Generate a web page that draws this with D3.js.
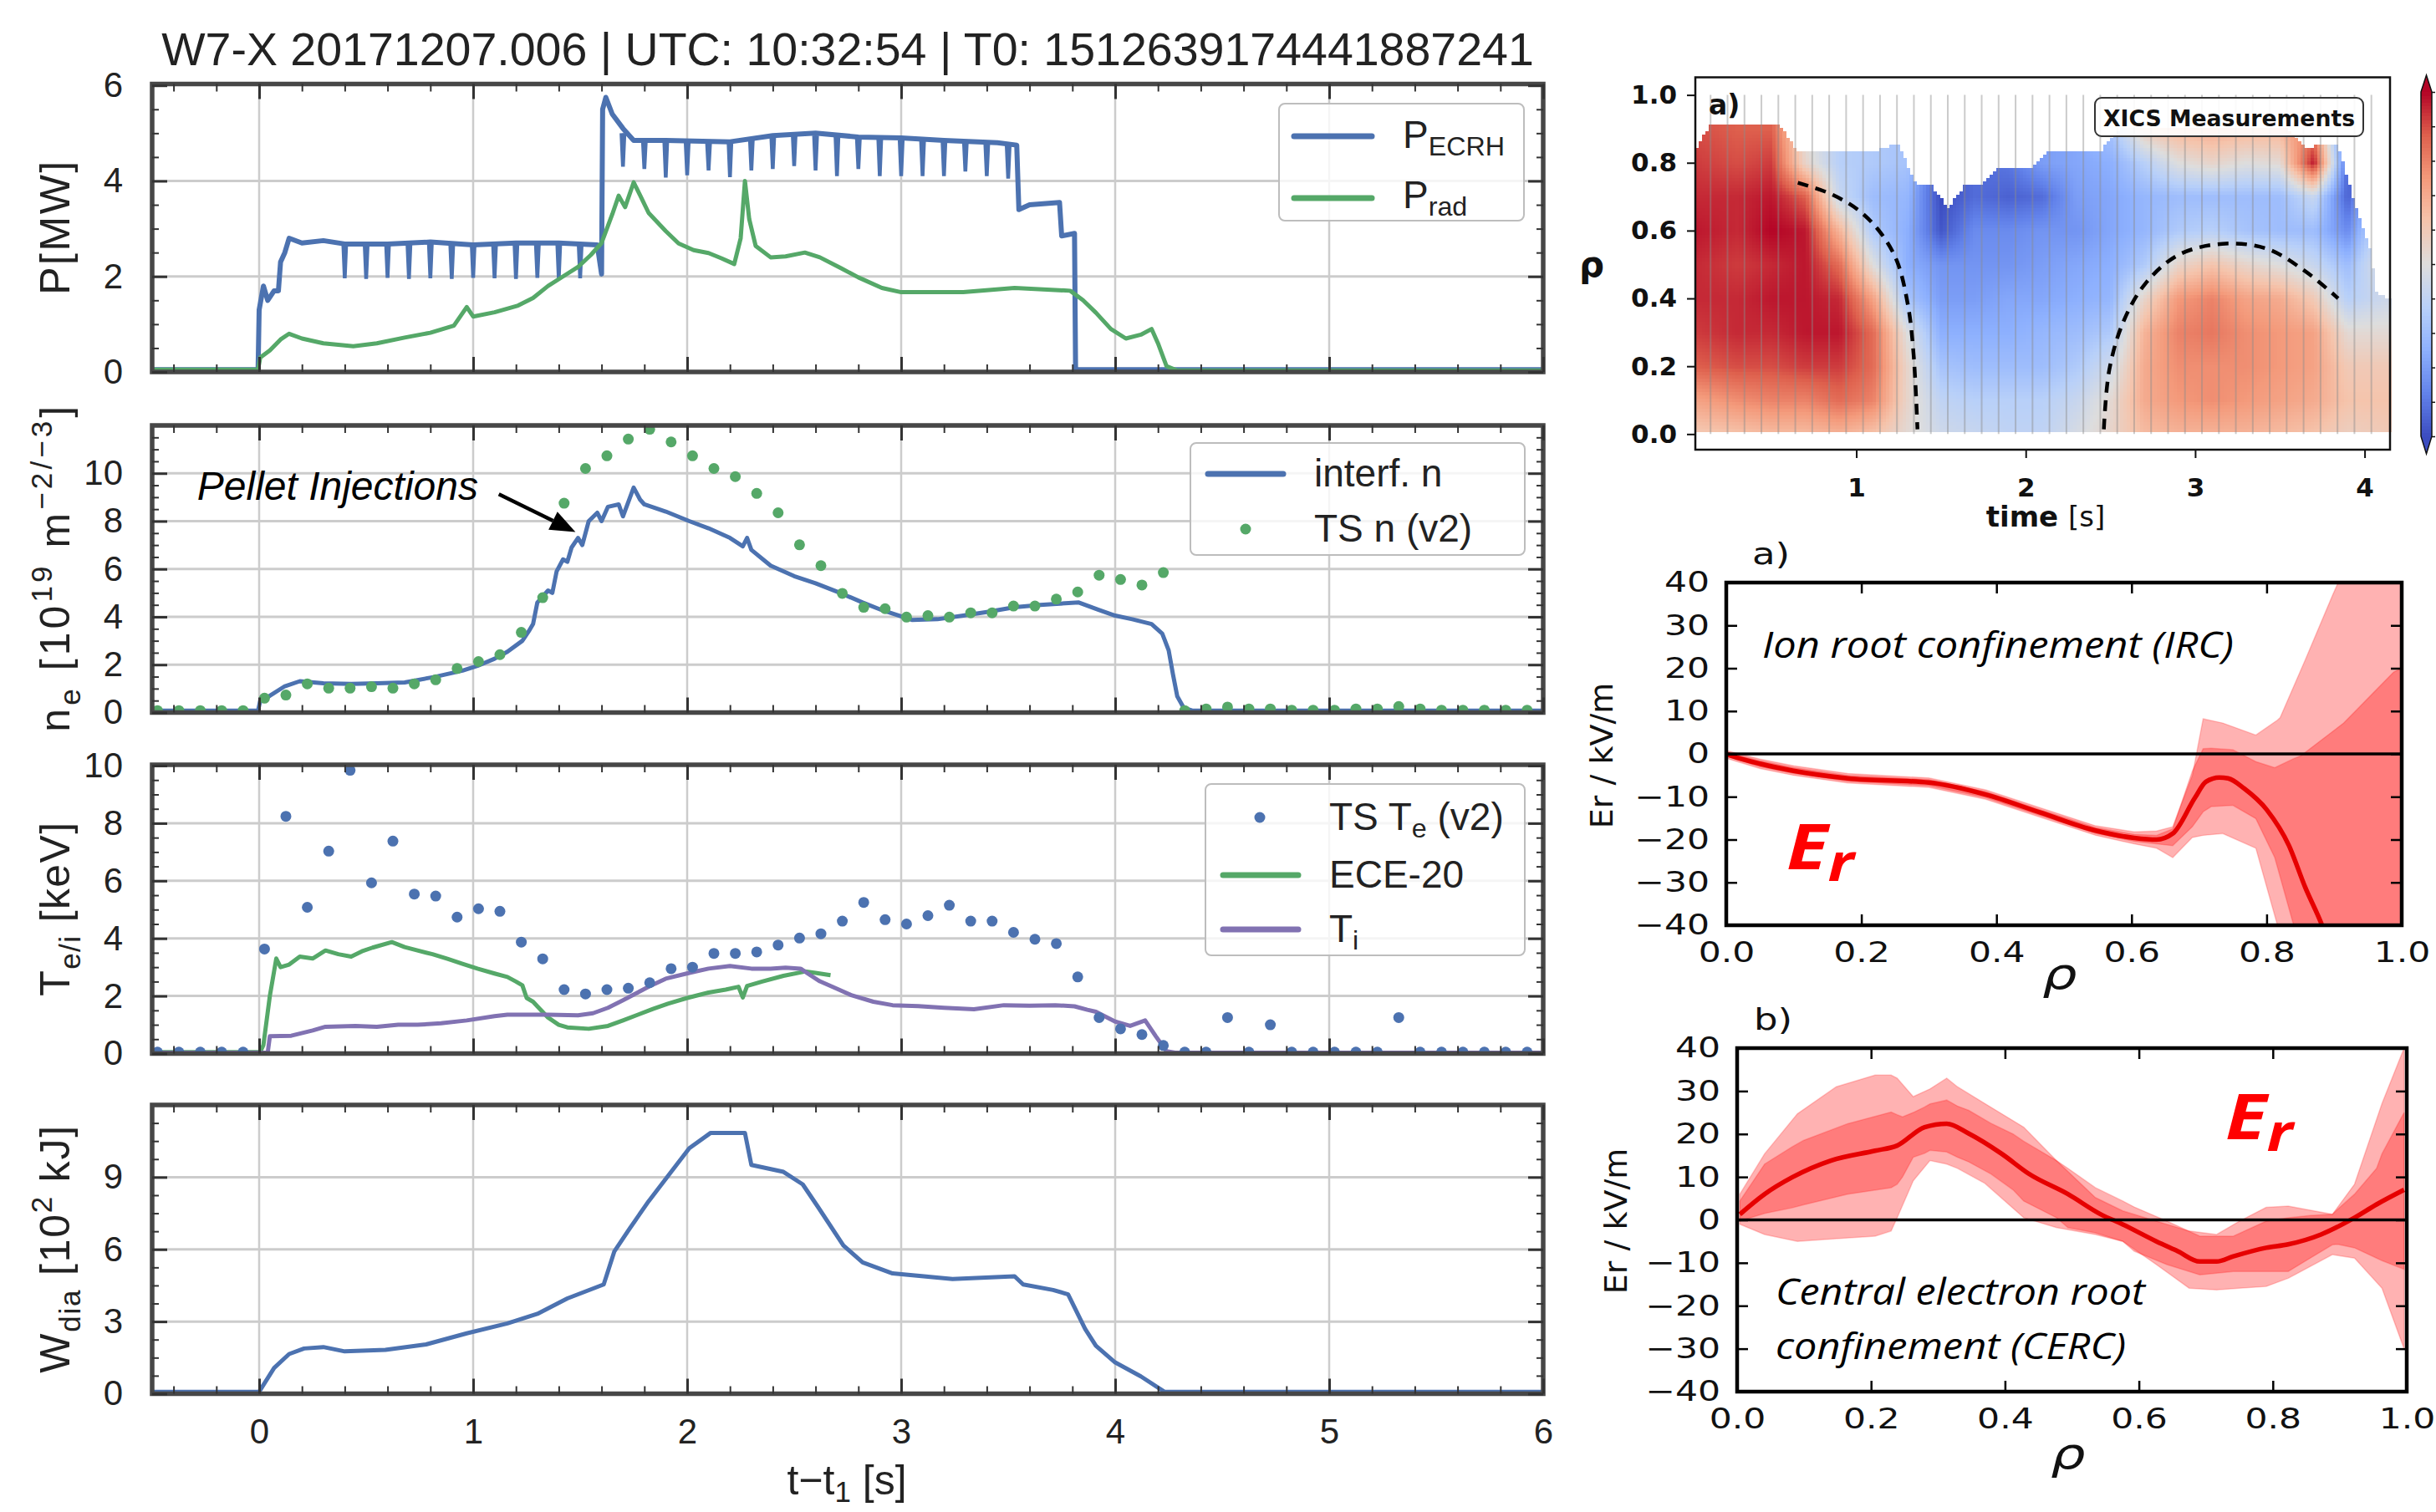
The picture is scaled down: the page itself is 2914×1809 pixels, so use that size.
<!DOCTYPE html>
<html>
<head>
<meta charset="utf-8">
<script src="https://cdn.jsdelivr.net/npm/d3@7"></script>
<style>
  body { margin: 0; background: #fff; }
  svg { display: block; }
</style>
</head>
<body>
<svg id="fig" width="2914" height="1809"></svg>
<script>
// ---------- left column: time traces (t - t1 in s) ----------
const ecrhBase = [[-0.5,0.05],[-0.005,0.05],[0,1.3],[0.02,1.8],[0.04,1.5],[0.07,1.7],[0.09,1.7],[0.1,2.3],[0.12,2.5],[0.14,2.8],[0.2,2.7],[0.3,2.75],[0.4,2.68],[0.6,2.68],[0.8,2.72],[1.0,2.66],[1.2,2.7],[1.4,2.7],[1.58,2.66],[1.6,2.05],[1.605,5.5],[1.62,5.75],[1.65,5.4],[1.7,5.1],[1.75,4.85],[1.9,4.85],[2.2,4.82],[2.4,4.95],[2.6,5.0],[2.8,4.92],[3.0,4.9],[3.2,4.85],[3.45,4.8],[3.54,4.75],[3.55,3.4],[3.6,3.5],[3.74,3.55],[3.75,2.85],[3.81,2.9],[3.815,0.05],[6,0.05]]
const ecrhDips = [[0.4,2.7,1.96],[0.5,2.68,1.95],[0.6,2.7,1.97],[0.7,2.68,1.95],[0.8,2.7,1.96],[0.9,2.68,1.95],[1.0,2.7,1.97],[1.1,2.68,1.96],[1.2,2.7,1.95],[1.3,2.68,1.97],[1.4,2.7,1.95],[1.5,2.68,1.96],
  [1.7,5.0,4.3],[1.8,4.85,4.25],[1.9,4.85,4.07],[2.0,4.8,4.12],[2.1,4.8,4.22],[2.2,4.85,4.08],[2.3,4.9,4.22],[2.4,4.95,4.25],[2.5,5.0,4.31],[2.6,4.95,4.22],[2.7,4.95,4.1],[2.8,4.9,4.25],[2.9,4.9,4.1],[3.0,4.85,4.1],[3.1,4.85,4.1],[3.2,4.85,4.1],[3.3,4.85,4.2],[3.4,4.8,4.1],[3.5,4.75,4.05]]
const pradData = [[-0.5,0.05],[-0.005,0.05],[0.005,0.3],[0.05,0.45],[0.1,0.68],[0.14,0.8],[0.2,0.7],[0.3,0.6],[0.44,0.54],[0.55,0.6],[0.68,0.72],[0.8,0.82],[0.91,0.97],[0.97,1.36],[1.0,1.16],[1.1,1.25],[1.21,1.39],[1.28,1.55],[1.35,1.8],[1.42,2.0],[1.49,2.2],[1.55,2.45],[1.6,2.7],[1.65,3.3],[1.68,3.69],[1.71,3.45],[1.75,3.97],[1.78,3.7],[1.82,3.33],[1.9,2.95],[1.96,2.69],[2.03,2.55],[2.1,2.49],[2.16,2.38],[2.22,2.26],[2.25,2.8],[2.27,4.0],[2.29,3.2],[2.32,2.64],[2.39,2.4],[2.46,2.42],[2.55,2.5],[2.62,2.4],[2.72,2.17],[2.8,1.98],[2.91,1.76],[3.0,1.67],[3.29,1.67],[3.53,1.76],[3.79,1.7],[3.85,1.5],[3.91,1.24],[3.98,0.9],[4.05,0.7],[4.12,0.78],[4.17,0.9],[4.2,0.6],[4.24,0.12],[4.29,0.03],[6,0.03]]

const interfData = [[-0.5,0.08],[-0.005,0.08],[0.005,0.5],[0.05,0.7],[0.12,1.1],[0.19,1.31],[0.3,1.22],[0.43,1.2],[0.55,1.22],[0.68,1.26],[0.82,1.49],[0.95,1.75],[1.02,1.95],[1.1,2.25],[1.16,2.54],[1.23,3.0],[1.26,3.4],[1.28,3.7],[1.3,4.6],[1.33,4.9],[1.35,5.1],[1.37,5.0],[1.39,5.9],[1.42,6.4],[1.44,6.3],[1.46,6.9],[1.49,7.3],[1.51,7.0],[1.54,8.0],[1.58,8.35],[1.6,8.0],[1.63,8.6],[1.68,8.7],[1.7,8.2],[1.75,9.4],[1.78,8.9],[1.8,8.7],[1.9,8.4],[2.01,8.0],[2.1,7.7],[2.2,7.3],[2.26,6.95],[2.28,7.3],[2.3,6.8],[2.39,6.14],[2.5,5.7],[2.6,5.4],[2.72,4.98],[2.82,4.6],[2.91,4.28],[3.05,3.87],[3.17,3.9],[3.29,4.05],[3.4,4.2],[3.53,4.4],[3.65,4.5],[3.83,4.6],[3.92,4.3],[4.0,4.05],[4.08,3.9],[4.17,3.7],[4.22,3.3],[4.25,2.6],[4.27,1.6],[4.29,0.68],[4.32,0.2],[4.36,0.08],[6,0.08]]

const tsTime = [-0.475,-0.375,-0.275,-0.175,-0.075,0.025,0.125,0.225,0.325,0.425,0.525,0.625,0.725,0.825,0.925,1.025,1.125,1.225,1.325,1.425,1.525,1.625,1.725,1.825,1.925,2.025,2.125,2.225,2.325,2.425,2.525,2.625,2.725,2.825,2.925,3.025,3.125,3.225,3.325,3.425,3.525,3.625,3.725,3.825,3.925,4.025,4.125,4.225,4.325,4.425,4.525,4.625,4.725,4.825,4.925,5.025,5.125,5.225,5.325,5.425,5.525,5.625,5.725,5.825,5.925]
const tsDensity = [0.08,0.08,0.08,0.08,0.08,0.6,0.73,1.2,1.02,1.02,1.08,1.02,1.2,1.37,1.84,2.13,2.42,3.35,4.8,8.75,10.2,10.73,11.43,11.84,11.31,10.73,10.2,9.86,9.16,8.35,7.01,6.14,4.98,4.4,4.34,3.99,4.05,3.99,4.17,4.17,4.45,4.45,4.74,5.04,5.74,5.56,5.33,5.85,0.08,0.15,0.23,0.15,0.15,0.1,0.1,0.1,0.15,0.15,0.25,0.15,0.1,0.1,0.1,0.1,0.1]
const tsTe = [0.05,0.05,0.05,0.05,0.05,3.63,8.24,5.08,7.03,9.84,5.93,7.38,5.54,5.47,4.74,5.03,4.94,3.87,3.29,2.22,2.07,2.22,2.27,2.46,2.95,3.0,3.48,3.48,3.53,3.77,4.01,4.16,4.6,5.25,4.65,4.5,4.79,5.15,4.6,4.6,4.21,3.97,3.82,2.66,1.25,0.86,0.66,0.28,0.05,0.05,1.25,0.05,1.0,0.05,0.05,0.05,0.05,0.05,1.25,0.05,0.05,0.05,0.05,0.05,0.05]

const eceData = [[-0.5,0.05],[0.005,0.05],[0.02,0.3],[0.05,2.0],[0.08,3.3],[0.1,3.0],[0.14,3.09],[0.19,3.37],[0.25,3.3],[0.31,3.58],[0.37,3.45],[0.43,3.37],[0.48,3.55],[0.53,3.68],[0.62,3.87],[0.68,3.7],[0.74,3.58],[0.81,3.45],[0.88,3.29],[0.95,3.12],[1.02,2.95],[1.1,2.78],[1.16,2.66],[1.2,2.5],[1.23,2.37],[1.25,1.93],[1.28,1.8],[1.3,1.64],[1.35,1.25],[1.4,1.0],[1.44,0.91],[1.54,0.86],[1.63,0.96],[1.7,1.15],[1.77,1.35],[1.84,1.55],[1.91,1.73],[2.0,1.93],[2.1,2.12],[2.18,2.22],[2.24,2.32],[2.26,1.95],[2.28,2.35],[2.35,2.5],[2.45,2.7],[2.55,2.85],[2.6,2.8],[2.67,2.72]]
const tiData = [[-0.5,0.03],[0.04,0.03],[0.05,0.6],[0.15,0.62],[0.25,0.8],[0.31,0.93],[0.45,0.96],[0.55,0.93],[0.65,1.0],[0.74,1.0],[0.85,1.05],[0.97,1.15],[1.1,1.3],[1.16,1.35],[1.35,1.35],[1.49,1.33],[1.56,1.4],[1.63,1.59],[1.7,1.85],[1.82,2.32],[1.9,2.6],[2.01,2.8],[2.1,2.95],[2.2,3.04],[2.3,2.95],[2.39,2.95],[2.46,2.98],[2.53,2.95],[2.58,2.7],[2.62,2.51],[2.7,2.25],[2.77,2.02],[2.87,1.8],[2.96,1.68],[3.08,1.65],[3.2,1.59],[3.34,1.54],[3.48,1.68],[3.6,1.66],[3.72,1.68],[3.81,1.64],[3.87,1.52],[3.91,1.45],[4.0,1.11],[4.07,0.96],[4.14,1.15],[4.19,0.6],[4.24,0.08],[4.28,0.03],[6,0.03]]

const wdiaData = [[-0.5,0.08],[0.0,0.08],[0.07,1.07],[0.14,1.65],[0.21,1.88],[0.3,1.94],[0.4,1.76],[0.59,1.82],[0.78,2.05],[0.97,2.51],[1.16,2.92],[1.3,3.32],[1.44,3.96],[1.61,4.54],[1.66,5.92],[1.73,6.85],[1.82,8.0],[1.92,9.16],[2.01,10.2],[2.11,10.84],[2.27,10.84],[2.3,9.51],[2.45,9.22],[2.54,8.7],[2.61,7.78],[2.73,6.16],[2.82,5.46],[2.96,5.0],[3.24,4.77],[3.53,4.88],[3.57,4.54],[3.71,4.31],[3.78,4.13],[3.86,2.69],[3.91,1.99],[4.0,1.3],[4.12,0.72],[4.23,0.08],[6,0.08]]

const timeTicks = [0, 1, 2, 3, 4, 5, 6]

// ---------- right column: XICS Er map ----------
const xicsTimes = [0.14,0.24,0.34,0.44,0.54,0.64,0.74,0.84,0.94,1.04,1.14,1.24,1.34,1.44,1.54,1.64,1.74,1.84,1.94,2.04,2.14,2.24,2.34,2.44,2.54,2.64,2.74,2.84,2.94,3.04,3.14,3.24,3.34,3.44,3.54,3.64,3.74,3.84,3.94,4.04]
const xicsTop = [[0.05,0.84],[0.14,0.915],[0.54,0.915],[0.64,0.84],[1.14,0.84],[1.24,0.86],[1.35,0.736],[1.44,0.736],[1.54,0.665],[1.64,0.736],[1.74,0.736],[1.84,0.79],[2.05,0.79],[2.15,0.84],[2.45,0.84],[2.55,0.9],[3.55,0.9],[3.65,0.84],[3.74,0.86],[3.84,0.85],[3.94,0.68],[4.04,0.53],[4.06,0.42],[4.15,0.4]]
const xicsGridT = [0.05,0.3,0.5,0.7,0.9,1.1,1.3,1.5,1.7,1.9,2.1,2.3,2.5,2.7,2.9,3.1,3.3,3.5,3.7,3.9,4.15]
const xicsGridRho = [0,0.1,0.2,0.3,0.4,0.5,0.6,0.7,0.8,0.9]
// normalised Er (-1 blue ... +1 red), one row per time column, rho 0 -> 0.9
const xicsGrid = [
  [0.2,0.45,0.75,0.85,0.9,0.9,0.95,0.9,0.85,0.8],
  [0.25,0.55,0.8,0.9,0.9,0.85,0.9,0.9,0.8,0.75],
  [0.3,0.6,0.8,0.9,0.95,0.9,1.0,0.95,0.85,0.75],
  [0.3,0.6,0.85,0.95,0.95,0.95,0.95,0.75,0.1,0.0],
  [0.35,0.7,0.85,0.95,0.9,0.7,0.35,-0.15,-0.25,-0.25],
  [0.25,0.6,0.7,0.7,0.45,0.0,-0.3,-0.4,-0.3,-0.3],
  [0.05,0.1,0.1,0.0,-0.35,-0.5,-0.5,-0.45,-0.35,-0.35],
  [-0.1,-0.2,-0.35,-0.5,-0.6,-0.65,-0.95,-1.0,-1.0,-1.0],
  [-0.15,-0.25,-0.4,-0.5,-0.6,-0.65,-0.7,-0.85,-0.85,-0.85],
  [-0.2,-0.25,-0.4,-0.5,-0.55,-0.65,-0.7,-0.9,-0.8,-0.8],
  [-0.2,-0.25,-0.4,-0.45,-0.55,-0.6,-0.65,-0.85,-0.6,-0.6],
  [-0.05,-0.15,-0.3,-0.4,-0.5,-0.55,-0.65,-0.6,-0.55,-0.55],
  [0.1,0.05,-0.1,-0.3,-0.45,-0.5,-0.55,-0.55,-0.5,-0.35],
  [0.3,0.4,0.4,0.35,0.1,-0.3,-0.45,-0.45,-0.25,0.2],
  [0.35,0.5,0.55,0.6,0.5,0.1,-0.3,-0.4,0.0,0.35],
  [0.35,0.55,0.55,0.65,0.6,0.25,-0.25,-0.4,0.1,0.4],
  [0.35,0.5,0.55,0.55,0.45,0.1,-0.35,-0.4,0.0,0.35],
  [0.3,0.45,0.5,0.5,0.4,0.0,-0.4,-0.4,0.05,0.35],
  [0.25,0.4,0.45,0.45,0.2,-0.15,-0.4,-0.15,0.95,0.6],
  [0.15,0.25,0.2,0.05,-0.25,-0.4,-0.7,-0.9,-0.9,-0.9],
  [0.2,0.25,0.2,0.05,-0.1,0.1,0.1,0.1,0.1,0.1]
]
const rootLineA = [[0.655,0.741],[0.85,0.708],[1.013,0.66],[1.143,0.594],[1.24,0.51],[1.306,0.377],[1.338,0.236],[1.361,0.014]]
const rootLineB = [[2.461,0.014],[2.493,0.189],[2.575,0.33],[2.705,0.443],[2.9,0.528],[3.16,0.561],[3.42,0.547],[3.647,0.481],[3.844,0.40]]

// ---------- right column: Er profiles (rho, kV/m) ----------
const erLineA = [[0,0],[0.008,-0.45],[0.05,-2.3],[0.098,-3.9],[0.18,-5.7],[0.3,-6.7],[0.384,-9.5],[0.465,-13.7],[0.547,-17.9],[0.604,-19.6],[0.637,-20],[0.661,-18.6],[0.694,-10.2],[0.71,-6.5],[0.73,-5.5],[0.743,-5.7],[0.767,-8.1],[0.8,-13],[0.833,-21.4],[0.857,-31.1],[0.882,-40],[0.9,-48]]
const erInnerA = [[0,-0.6,0.4],[0.05,-3.0,-1.6],[0.1,-4.6,-3.2],[0.18,-6.4,-5.0],[0.3,-7.4,-6.0],[0.384,-10.2,-8.8],[0.465,-14.4,-13.0],[0.547,-18.6,-17.2],[0.604,-20.4,-18.8],[0.637,-21,-19],[0.661,-21.4,-17.5],[0.69,-17,-4],[0.706,-13.5,1.2],[0.718,-12.3,1.3],[0.75,-12,1],[0.784,-15.1,-1.8],[0.812,-24.2,-3.2],[0.84,-40,-1.1],[0.85,-50,-0.5],[0.914,-50,7.2],[0.988,-50,19.1],[1.0,-50,20]]
const erOuterA = [[0,-1,0.8],[0.05,-3.4,-1.2],[0.1,-5.0,-2.8],[0.18,-6.8,-4.6],[0.3,-7.8,-5.6],[0.384,-10.6,-8.4],[0.465,-14.8,-12.6],[0.547,-19,-16.8],[0.604,-21,-18.2],[0.637,-22,-18],[0.661,-24.2,-17],[0.69,-19.5,-5],[0.706,-19,8.2],[0.735,-18.6,7.2],[0.784,-22,4.4],[0.816,-40,7.9],[0.82,-50,8.5],[0.857,-50,21.9],[0.898,-50,37.2],[0.92,-50,45],[1.0,-50,60]]
const erLineB = [[0.004,1.3],[0.041,6],[0.082,9.9],[0.14,13.8],[0.206,16.1],[0.239,17.3],[0.28,21.6],[0.313,22.4],[0.346,20.1],[0.395,15.4],[0.436,10.7],[0.494,6],[0.543,1.3],[0.576,-1.06],[0.626,-5],[0.658,-7.3],[0.691,-9.7],[0.716,-9.7],[0.741,-8.5],[0.79,-6.5],[0.823,-5.7],[0.872,-3.4],[0.922,0.5],[0.955,3.6],[0.996,7]]
const erInnerB = [[0.004,-0.3,4.4],[0.041,1.5,13],[0.082,2.8,17],[0.099,3.5,18.5],[0.165,6,22.4],[0.23,7.5,25.1],[0.239,8.3,24.5],[0.247,10,24],[0.263,14.6,25],[0.28,15.5,26.3],[0.288,16.2,27],[0.313,15.8,27.9],[0.329,14.6,26.5],[0.346,13.5,25.5],[0.379,10.7,22.5],[0.412,7,20],[0.428,4.4,18.3],[0.477,0.5,13.8],[0.494,-1.8,12],[0.535,-3,7.5],[0.576,-5,4.4],[0.593,-7.3,3],[0.642,-10.4,-0.3],[0.691,-12.8,-3.8],[0.741,-12,-3.8],[0.79,-12,-0.3],[0.823,-12,0.5],[0.856,-8.9,1],[0.889,-5.8,1.3],[0.897,-5.7,2.5],[0.922,-6.5,6],[0.955,-8.9,12],[0.963,-9.5,15.4],[0.996,-11.5,25]]
const erOuterB = [[0.004,-1,6],[0.041,-3.4,15.4],[0.09,-5,24.7],[0.148,-4.4,31],[0.206,-3.8,33.7],[0.23,-2.6,33.7],[0.239,0.5,33],[0.263,9.1,28.7],[0.288,13.8,30.5],[0.313,13,33],[0.329,12,31],[0.37,8.5,27.1],[0.428,0.5,21.6],[0.477,-1.8,13.8],[0.535,-3.4,5.2],[0.576,-5,2.1],[0.626,-10.4,-0.3],[0.675,-15.9,-2.6],[0.716,-16.3,-3.4],[0.75,-15.9,-0.3],[0.79,-15.5,2.9],[0.823,-13.6,3.2],[0.889,-8.1,1.3],[0.922,-8.9,8.3],[0.963,-15.9,27.1],[0.996,-30,40]]

// ---------- styling ----------
const SANS = '"Liberation Sans", Arial, sans-serif'
const DJ = '"DejaVu Sans", sans-serif'
const OS = '"Open Sans", sans-serif'
const BLUE = '#4c72b0', GREEN = '#55a868', PURPLE = '#8172b2'
const coolwarm = d3.piecewise(d3.interpolateRgb, ['#3b4cc0', '#6282ea', '#8db0fe', '#b8d0f9', '#dddddd', '#f5c4ac', '#f49a7b', '#de604d', '#b40426'])
const erColour = v => coolwarm(Math.max(0, Math.min(1, (v + 1) / 2)))

const svg = d3.select('#fig')
const x = d3.scaleLinear([-0.5, 6], [182, 1846])

const richText = (sel, parts, fs, subShift = 0.25, supShift = -0.42) => {
    let shift = 0
    parts.forEach(p => {
        const target = p.sub ? subShift * fs : p.sup ? supShift * fs : 0
        sel.append('tspan')
            .attr('dy', target - shift)
            .attr('font-size', (p.sub || p.sup) ? fs * 0.7 : fs)
            .text(p.t)
        shift = target
    })
}

const cleanAxis = (g, width, colour = '#333') => {
    g.select('.domain').remove()
    g.selectAll('line').attr('stroke', colour).attr('stroke-width', width)
}

// ---------- title ----------
svg.append('text')
    .attr('x', 1014).attr('y', 78)
    .attr('text-anchor', 'middle')
    .attr('font-family', SANS).attr('font-size', 55.5).attr('fill', '#222')
    .text('W7-X 20171207.006 | UTC: 10:32:54 | T0: 1512639174441887241')

// ---------- time panels ----------
const panels = [
    { top: 100.5, bottom: 445, dom: [0, 6.03], major: [0, 2, 4, 6], minor: 0.5, labelLength: 160,
      label: [{ t: 'P[MW]' }] },
    { top: 509, bottom: 852.5, dom: [0, 12], major: [0, 2, 4, 6, 8, 10], minor: 0.5, labelLength: 390,
      label: [{ t: 'n' }, { t: 'e', sub: true }, { t: ' [10' }, { t: '19', sup: true }, { t: ' m' }, { t: '−2/−3', sup: true }, { t: ']' }] },
    { top: 915, bottom: 1260.5, dom: [0, 10.03], major: [0, 2, 4, 6, 8, 10], minor: 0.5, labelLength: 208,
      label: [{ t: 'T' }, { t: 'e/i', sub: true }, { t: ' [keV]' }] },
    { top: 1322, bottom: 1667.5, dom: [0, 12], major: [0, 3, 6, 9], minor: 0.75, labelLength: 296,
      label: [{ t: 'W' }, { t: 'dia', sub: true }, { t: ' [10' }, { t: '2', sup: true }, { t: ' kJ]' }] }
]

const setupPanel = (p, i) => {
    const y = d3.scaleLinear(p.dom, [p.bottom, p.top])
    const g = svg.append('g').attr('class', `time-panel-${i}`)

    g.append('g').selectAll('line').data(timeTicks.filter(d => d < 6)).join('line')
        .attr('x1', d => x(d)).attr('x2', d => x(d))
        .attr('y1', p.top).attr('y2', p.bottom)
        .attr('stroke', '#cccccc').attr('stroke-width', 2.5)
    g.append('g').selectAll('line').data(p.major.filter(v => v > p.dom[0] && v < p.dom[1] - 0.1)).join('line')
        .attr('x1', 182).attr('x2', 1846)
        .attr('y1', d => y(d)).attr('y2', d => y(d))
        .attr('stroke', '#cccccc').attr('stroke-width', 3)

    const clipId = `clip-time-${i}`
    svg.append('clipPath').attr('id', clipId).append('rect')
        .attr('x', 182).attr('y', p.top).attr('width', 1664).attr('height', p.bottom - p.top)
    const plot = g.append('g').attr('clip-path', `url(#${clipId})`)

    g.append('text')
        .attr('transform', `translate(83,${(p.top + p.bottom) / 2}) rotate(-90)`)
        .attr('text-anchor', 'middle')
        .attr('font-family', SANS).attr('fill', '#222')
        .attr('textLength', p.labelLength).attr('lengthAdjust', 'spacing')
        .call(t => richText(t, p.label, 50))

    return { p, g, plot, y, i }
}

const finishPanel = ({ p, g, y, i }) => {
    g.append('rect')
        .attr('x', 182).attr('y', p.top).attr('width', 1664).attr('height', p.bottom - p.top)
        .attr('fill', 'none').attr('stroke', '#474747').attr('stroke-width', 5.5)

    const xMinor = d3.range(-0.4, 6.01, 0.2).filter(v => Math.abs(v - Math.round(v)) > 0.01)
    const yMinor = d3.range(p.dom[0], p.dom[1], p.minor).filter(v => !p.major.some(m => Math.abs(m - v) < 0.01))
    const ticks = g.append('g').attr('color', '#333')
    const put = (axis, tr, w) => ticks.append('g').attr('transform', tr).call(axis).call(a => cleanAxis(a, w))

    put(d3.axisTop(x).tickValues(xMinor).tickSize(-9).tickFormat(''), `translate(0,${p.top})`, 2)
    put(d3.axisBottom(x).tickValues(xMinor).tickSize(-9).tickFormat(''), `translate(0,${p.bottom})`, 2)
    put(d3.axisTop(x).tickValues(timeTicks).tickSize(-18).tickFormat(''), `translate(0,${p.top})`, 3)
    put(d3.axisBottom(x).tickValues(timeTicks).tickSize(-18).tickFormat(''), `translate(0,${p.bottom})`, 3)
    put(d3.axisLeft(y).tickValues(yMinor).tickSize(-8).tickFormat(''), 'translate(182,0)', 2)
    put(d3.axisRight(y).tickValues(yMinor).tickSize(-8).tickFormat(''), 'translate(1846,0)', 2)
    put(d3.axisLeft(y).tickValues(p.major).tickSize(-18).tickFormat(''), 'translate(182,0)', 3)
    put(d3.axisRight(y).tickValues(p.major).tickSize(-18).tickFormat(''), 'translate(1846,0)', 3)

    g.append('g')
        .attr('transform', 'translate(182,0)')
        .call(d3.axisLeft(y).tickValues(p.major).tickSize(0).tickPadding(35).tickFormat(d3.format('d')))
        .attr('font-size', 42).attr('font-family', SANS).attr('color', '#222')
        .call(a => a.select('.domain').remove())

    if (i === 3) {
        g.append('g')
            .attr('transform', `translate(0,${p.bottom})`)
            .call(d3.axisBottom(x).tickValues(timeTicks).tickSize(0).tickPadding(30).tickFormat(d3.format('d')))
            .attr('font-size', 42).attr('font-family', SANS).attr('color', '#222')
            .call(a => a.select('.domain').remove())
        g.append('text')
            .attr('x', 1013).attr('y', 1788)
            .attr('text-anchor', 'middle')
            .attr('font-family', SANS).attr('fill', '#222')
            .call(t => richText(t, [{ t: 't−t' }, { t: '1', sub: true }, { t: ' [s]' }], 50, 0.18))
    }
}

const legendBox = (g, x0, y0, w, h) => g.append('rect')
    .attr('x', x0).attr('y', y0).attr('width', w).attr('height', h).attr('rx', 7)
    .attr('fill', 'rgba(255,255,255,0.8)').attr('stroke', '#bdbdbd').attr('stroke-width', 2)
const legendLine = (g, x0, x1, yy, colour) => g.append('line')
    .attr('x1', x0).attr('x2', x1).attr('y1', yy).attr('y2', yy)
    .attr('stroke', colour).attr('stroke-width', 7).attr('stroke-linecap', 'round')
const legendDot = (g, cx, cy, colour) => g.append('circle')
    .attr('cx', cx).attr('cy', cy).attr('r', 6.5).attr('fill', colour)
const legendText = (g, x0, yy, parts) => g.append('text')
    .attr('x', x0).attr('y', yy)
    .attr('font-family', SANS).attr('fill', '#222')
    .call(t => richText(t, parts, 46, 0.2))

const line = y => d3.line().x(d => x(d[0])).y(d => y(d[1]))
const drawTrace = (plot, y, data, colour, width = 5) => plot.append('path')
    .datum(data).attr('d', line(y))
    .attr('fill', 'none').attr('stroke', colour).attr('stroke-width', width)
    .attr('stroke-linejoin', 'round')
const drawDots = (plot, y, xs, ys, colour) => plot.append('g').selectAll('circle')
    .data(xs.map((t, k) => [t, ys[k]])).join('circle')
    .attr('cx', d => x(d[0])).attr('cy', d => y(d[1])).attr('r', 6.5).attr('fill', colour)

// panel 1: heating and radiated power
const pan1 = setupPanel(panels[0], 0)
drawTrace(pan1.plot, pan1.y, ecrhBase, BLUE, 6)
pan1.plot.append('g').selectAll('path').data(ecrhDips).join('path')
    .attr('d', d => line(pan1.y)([[d[0] - 0.007, d[1]], [d[0], d[2]], [d[0] + 0.007, d[1]]]))
    .attr('fill', 'none').attr('stroke', BLUE).attr('stroke-width', 4.5)
drawTrace(pan1.plot, pan1.y, pradData, GREEN)
{
    const lg = pan1.g.append('g')
    legendBox(lg, 1530, 124, 293, 140)
    legendLine(lg, 1548, 1641, 163, BLUE)
    legendLine(lg, 1548, 1641, 237, GREEN)
    legendText(lg, 1678, 177, [{ t: 'P' }, { t: 'ECRH', sub: true }])
    legendText(lg, 1678, 249, [{ t: 'P' }, { t: 'rad', sub: true }])
}
finishPanel(pan1)

// panel 2: density
const pan2 = setupPanel(panels[1], 1)
drawTrace(pan2.plot, pan2.y, interfData, BLUE)
drawDots(pan2.plot, pan2.y, tsTime, tsDensity, GREEN)
{
    const lg = pan2.g.append('g')
    legendBox(lg, 1424, 530, 400, 134)
    legendLine(lg, 1445, 1535, 567, BLUE)
    legendDot(lg, 1490, 633, GREEN)
    legendText(lg, 1572, 582, [{ t: 'interf. n' }])
    legendText(lg, 1572, 648, [{ t: 'TS n (v2)' }])
}
finishPanel(pan2)

// pellet annotation (data coordinates of text, arrow tail and tip)
{
    const tip = [1.478, 7.55], tail = [1.12, 9.13], label = [-0.29, 8.88]
    const [tx, ty] = [x(tip[0]), pan2.y(tip[1])]
    const [sx, sy] = [x(tail[0]), pan2.y(tail[1])]
    const len = Math.hypot(tx - sx, ty - sy)
    const ux = (tx - sx) / len, uy = (ty - sy) / len
    const hl = 30, hw = 12
    const bx = tx - ux * hl, by = ty - uy * hl
    pan2.g.append('line')
        .attr('x1', sx).attr('y1', sy).attr('x2', bx).attr('y2', by)
        .attr('stroke', '#000').attr('stroke-width', 4.5)
    pan2.g.append('path')
        .attr('d', `M${tx},${ty}L${bx - uy * hw},${by + ux * hw}L${bx + uy * hw},${by - ux * hw}Z`)
        .attr('fill', '#000')
    pan2.g.append('text')
        .attr('x', x(label[0])).attr('y', pan2.y(label[1]))
        .attr('font-family', SANS).attr('font-style', 'italic').attr('font-size', 48).attr('fill', '#000')
        .text('Pellet Injections')
}

// panel 3: temperatures
const pan3 = setupPanel(panels[2], 2)
drawTrace(pan3.plot, pan3.y, eceData, GREEN)
drawTrace(pan3.plot, pan3.y, tiData, PURPLE)
drawDots(pan3.plot, pan3.y, tsTime, tsTe, BLUE)
{
    const lg = pan3.g.append('g')
    legendBox(lg, 1442, 938, 382, 205)
    legendDot(lg, 1507, 978, BLUE)
    legendLine(lg, 1463, 1553, 1047, GREEN)
    legendLine(lg, 1463, 1553, 1112, PURPLE)
    legendText(lg, 1590, 993, [{ t: 'TS T' }, { t: 'e', sub: true }, { t: ' (v2)' }])
    legendText(lg, 1590, 1062, [{ t: 'ECE-20' }])
    legendText(lg, 1590, 1127, [{ t: 'T' }, { t: 'i', sub: true }])
}
finishPanel(pan3)

// panel 4: diamagnetic energy
const pan4 = setupPanel(panels[3], 3)
drawTrace(pan4.plot, pan4.y, wdiaData, BLUE)
finishPanel(pan4)

// ---------- XICS map ----------
{
    const L = 2028, R = 2859, T = 92.5, B = 538
    const xt = d3.scaleLinear([0.05, 4.15], [L, R])
    const yr = d3.scaleLinear([-0.046, 1.052], [B, T])
    const g = svg.append('g').attr('class', 'xics')

    const topAt = t => {
        const k = Math.max(0, Math.min(xicsTop.length - 2, d3.bisector(d => d[0]).right(xicsTop, t) - 1))
        const [t0, r0] = xicsTop[k], [t1, r1] = xicsTop[k + 1]
        return r0 + (r1 - r0) * Math.max(0, Math.min(1, (t - t0) / (t1 - t0)))
    }
    const valueAt = (t, r) => {
        const i = Math.max(0, Math.min(xicsGridT.length - 2, d3.bisectRight(xicsGridT, t) - 1))
        const ft = Math.max(0, Math.min(1, (t - xicsGridT[i]) / (xicsGridT[i + 1] - xicsGridT[i])))
        const j = Math.max(0, Math.min(xicsGridRho.length - 2, Math.floor(r / 0.1)))
        const fr = Math.max(0, Math.min(1, (r - xicsGridRho[j]) / 0.1))
        const a = xicsGrid[i][j] * (1 - fr) + xicsGrid[i][j + 1] * fr
        const b = xicsGrid[i + 1][j] * (1 - fr) + xicsGrid[i + 1][j + 1] * fr
        return a * (1 - ft) + b * ft
    }

    const step = 4
    const cells = []
    for (let px = L; px < R; px += step) {
        for (let py = T; py < B; py += step) {
            const t = xt.invert(px + step / 2), r = yr.invert(py + step / 2)
            if (r < 0.01 || r > topAt(t)) continue
            cells.push({ px, py, v: valueAt(t, r) })
        }
    }
    g.append('g').attr('shape-rendering', 'crispEdges')
        .selectAll('rect').data(cells).join('rect')
        .attr('x', d => d.px).attr('y', d => d.py)
        .attr('width', step + 0.5).attr('height', step + 0.5)
        .attr('fill', d => erColour(d.v))

    g.append('g').selectAll('line').data(xicsTimes).join('line')
        .attr('x1', d => xt(d)).attr('x2', d => xt(d))
        .attr('y1', yr(1.0)).attr('y2', yr(0))
        .attr('stroke', 'rgba(140,140,140,0.45)').attr('stroke-width', 2)

    const rootLine = d3.line().x(d => xt(d[0])).y(d => yr(d[1])).curve(d3.curveCatmullRom)
    g.append('g').selectAll('path').data([rootLineA, rootLineB]).join('path')
        .attr('d', rootLine)
        .attr('fill', 'none').attr('stroke', '#000').attr('stroke-width', 4.5)
        .attr('stroke-dasharray', '13 9')

    g.append('rect').attr('x', L).attr('y', T).attr('width', R - L).attr('height', B - T)
        .attr('fill', 'none').attr('stroke', '#111').attr('stroke-width', 2.5)

    g.append('g').attr('transform', `translate(${L},0)`)
        .call(d3.axisLeft(yr).tickValues([0, 0.2, 0.4, 0.6, 0.8, 1.0]).tickSize(10).tickPadding(12).tickFormat(d3.format('.1f')))
        .attr('font-size', 31).attr('font-family', DJ).attr('font-weight', 'bold').attr('color', '#111')
        .call(a => cleanAxis(a, 2, '#111'))
    g.append('g').attr('transform', `translate(0,${B})`)
        .call(d3.axisBottom(xt).tickValues([1, 2, 3, 4]).tickSize(10).tickPadding(24).tickFormat(d3.format('d')))
        .attr('font-size', 31).attr('font-family', DJ).attr('font-weight', 'bold').attr('color', '#111')
        .call(a => cleanAxis(a, 2, '#111'))

    const tl = g.append('text').attr('x', 2447).attr('y', 630).attr('text-anchor', 'middle')
        .attr('font-family', DJ).attr('font-size', 34).attr('fill', '#111')
    tl.append('tspan').attr('font-weight', 'bold').text('time ')
    tl.append('tspan').text('[s]')
    g.append('text').attr('x', 1904).attr('y', 331).attr('text-anchor', 'middle')
        .attr('font-family', DJ).attr('font-weight', 'bold').attr('font-size', 42).attr('fill', '#111')
        .text('ρ')
    g.append('text').attr('x', 2044).attr('y', 137)
        .attr('font-family', DJ).attr('font-weight', 'bold').attr('font-size', 33).attr('fill', '#111')
        .text('a)')
    g.append('rect').attr('x', 2506).attr('y', 117).attr('width', 321).attr('height', 46).attr('rx', 8)
        .attr('fill', 'rgba(255,255,255,0.9)').attr('stroke', '#333').attr('stroke-width', 2)
    g.append('text').attr('x', 2516).attr('y', 151)
        .attr('font-family', DJ).attr('font-weight', 'bold').attr('font-size', 26).attr('fill', '#111')
        .attr('textLength', 301).attr('lengthAdjust', 'spacingAndGlyphs')
        .text('XICS Measurements')

    // colour bar
    const cbTop = 110, cbBottom = 522, cbL = 2896, cbR = 2909
    const cb = d3.scaleLinear([-1, 1], [cbBottom, cbTop])
    const levels = d3.range(-1, 1, 0.02)
    g.append('g').attr('shape-rendering', 'crispEdges').selectAll('rect').data(levels).join('rect')
        .attr('x', cbL).attr('width', cbR - cbL)
        .attr('y', d => cb(d + 0.02)).attr('height', d => cb(d) - cb(d + 0.02) + 0.6)
        .attr('fill', d => erColour(d + 0.01))
    const mid = (cbL + cbR) / 2
    g.append('path').attr('d', `M${cbL},${cbTop}L${mid},${cbTop - 20}L${cbR},${cbTop}Z`).attr('fill', erColour(1))
    g.append('path').attr('d', `M${cbL},${cbBottom}L${mid},${cbBottom + 21}L${cbR},${cbBottom}Z`).attr('fill', erColour(-1))
    g.append('path')
        .attr('d', `M${cbL},${cbTop}L${mid},${cbTop - 20}L${cbR},${cbTop}L${cbR},${cbBottom}L${mid},${cbBottom + 21}L${cbL},${cbBottom}Z`)
        .attr('fill', 'none').attr('stroke', '#111').attr('stroke-width', 1.5)
    g.append('g').attr('transform', `translate(${cbR},0)`)
        .call(d3.axisRight(cb).ticks(8).tickSize(4).tickFormat(''))
        .call(a => cleanAxis(a, 1.5, '#111'))
}

// ---------- Er profiles ----------
const erPanels = [
    { left: 2065, right: 2873, top: 697, bottom: 1107, line: erLineA, inner: erInnerA, outer: erOuterA,
      tag: [2096, 675], ylab: [1929, 904], rho: [2464, 1183], er: [2137, 1040],
      notes: [{ t: 'Ion root confinement (IRC)', x: 2108, y: 787, w: 564 }] },
    { left: 2078, right: 2879, top: 1254, bottom: 1665, line: erLineB, inner: erInnerB, outer: erOuterB,
      tag: [2098, 1232], ylab: [1946, 1461], rho: [2474, 1757], er: [2662, 1363],
      notes: [{ t: 'Central electron root', x: 2124, y: 1561, w: 442 }, { t: 'confinement (CERC)', x: 2124, y: 1626, w: 419 }] }
]
const SX = 1.25

erPanels.forEach((p, i) => {
    const ex = d3.scaleLinear([0, 1], [p.left, p.right])
    const ey = d3.scaleLinear([-40, 40], [p.bottom, p.top])
    const g = svg.append('g').attr('class', `er-panel-${i}`)
    const clipId = `clip-er-${i}`
    svg.append('clipPath').attr('id', clipId).append('rect')
        .attr('x', p.left).attr('y', p.top).attr('width', p.right - p.left).attr('height', p.bottom - p.top)
    const plot = g.append('g').attr('clip-path', `url(#${clipId})`)

    const band = d3.area().x(d => ex(d[0])).y0(d => ey(d[1])).y1(d => ey(d[2]))
    plot.append('path').datum(p.outer).attr('d', band)
        .attr('fill', 'rgba(255,0,0,0.3)').attr('stroke', 'rgba(255,0,0,0.2)').attr('stroke-width', 1.5)
    plot.append('path').datum(p.inner).attr('d', band)
        .attr('fill', 'rgba(255,0,0,0.3)').attr('stroke', 'rgba(255,0,0,0.2)').attr('stroke-width', 1.5)
    plot.append('path').datum(p.line)
        .attr('d', d3.line().x(d => ex(d[0])).y(d => ey(d[1])).curve(d3.curveMonotoneX))
        .attr('fill', 'none').attr('stroke', '#e60000').attr('stroke-width', 5.5)
    plot.append('line').attr('x1', p.left).attr('x2', p.right).attr('y1', ey(0)).attr('y2', ey(0))
        .attr('stroke', '#000').attr('stroke-width', 3.5)

    g.append('rect').attr('x', p.left).attr('y', p.top).attr('width', p.right - p.left).attr('height', p.bottom - p.top)
        .attr('fill', 'none').attr('stroke', '#000').attr('stroke-width', 4.5)

    const xt = [0.2, 0.4, 0.6, 0.8], yt = d3.range(-30, 31, 10)
    const put = (axis, tr) => g.append('g').attr('transform', tr).call(axis).call(a => cleanAxis(a, 2.5, '#000'))
    put(d3.axisTop(ex).tickValues(xt).tickSize(-13).tickFormat(''), `translate(0,${p.top})`)
    put(d3.axisBottom(ex).tickValues(xt).tickSize(-13).tickFormat(''), `translate(0,${p.bottom})`)
    put(d3.axisLeft(ey).tickValues(yt).tickSize(-13).tickFormat(''), `translate(${p.left},0)`)
    put(d3.axisRight(ey).tickValues(yt).tickSize(-13).tickFormat(''), `translate(${p.right},0)`)

    g.append('g').attr('transform', `translate(0,${p.bottom})`)
        .call(d3.axisBottom(ex).tickValues([0, 0.2, 0.4, 0.6, 0.8, 1.0]).tickSize(0).tickPadding(20).tickFormat(d3.format('.1f')))
        .attr('font-size', 34).attr('font-family', DJ).attr('color', '#111')
        .call(a => a.select('.domain').remove())
        .call(a => a.selectAll('text').attr('transform', `scale(${SX},1)`))
    g.append('g').attr('transform', `translate(${p.left},0)`)
        .call(d3.axisLeft(ey).tickValues(d3.range(-40, 41, 10)).tickSize(0).tickPadding(16).tickFormat(d3.format('d')))
        .attr('font-size', 34).attr('font-family', DJ).attr('color', '#111')
        .call(a => a.select('.domain').remove())
        .call(a => a.selectAll('text').attr('transform', `scale(${SX},1)`))

    g.append('text').attr('transform', `translate(${p.ylab[0]},${p.ylab[1]}) rotate(-90)`)
        .attr('text-anchor', 'middle').attr('font-family', DJ).attr('font-size', 38).attr('fill', '#111')
        .text('Er / kV/m')
    g.append('text').attr('transform', `translate(${p.rho[0]},${p.rho[1]}) scale(${SX},1)`)
        .attr('text-anchor', 'middle').attr('font-family', DJ).attr('font-style', 'italic').attr('font-size', 52).attr('fill', '#111')
        .text('ρ')
    g.append('text').attr('transform', `translate(${p.tag[0]},${p.tag[1]}) scale(${SX},1)`)
        .attr('font-family', DJ).attr('font-size', 36).attr('fill', '#111')
        .text(i === 0 ? 'a)' : 'b)')
    p.notes.forEach(n => g.append('text')
        .attr('x', n.x).attr('y', n.y)
        .attr('font-family', OS).attr('font-style', 'italic').attr('font-size', 43).attr('fill', '#000')
        .attr('textLength', n.w).attr('lengthAdjust', 'spacingAndGlyphs')
        .text(n.t))
    const erText = g.append('text').attr('transform', `translate(${p.er[0]},${p.er[1]}) scale(1.2,1)`)
        .attr('font-family', OS).attr('font-style', 'italic').attr('font-weight', 'bold').attr('fill', '#ff0000')
    erText.append('tspan').attr('font-size', 76).text('E')
    erText.append('tspan').attr('font-size', 62).attr('dy', 14).text('r')
})
</script>
</body>
</html>
